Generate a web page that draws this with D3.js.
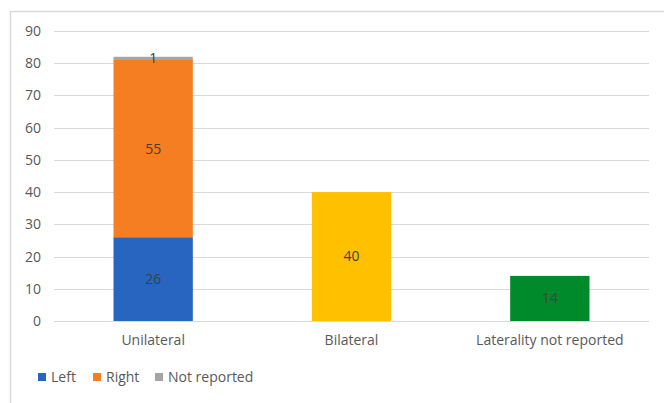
<!DOCTYPE html>
<html>
<head>
<meta charset="utf-8">
<script src="https://cdn.jsdelivr.net/npm/d3@7"></script>
<style>
  html, body { margin: 0; padding: 0; background: #fff; }
  svg text { font-family: "Open Sans", "Noto Sans", sans-serif; }
</style>
</head>
<body>
<svg id="chart" width="664" height="403"></svg>
<script>
// Case counts by laterality, stacked for the unilateral group
const categories = ["Unilateral", "Bilateral", "Laterality not reported"];
const leftValues = [26, 0, 0];
const rightValues = [55, 0, 0];
const notReportedValues = [1, 0, 0];
const bilateralValues = [0, 40, 0];
const unknownValues = [0, 0, 14];
const yTicks = [0, 10, 20, 30, 40, 50, 60, 70, 80, 90];
const legendLabels = ["Left", "Right", "Not reported"];

const seriesDefs = [
  { key: "left", values: leftValues, color: "#2865C1" },
  { key: "right", values: rightValues, color: "#F57E22" },
  { key: "nr", values: notReportedValues, color: "#A5A5A5" },
  { key: "bilateral", values: bilateralValues, color: "#FFC000" },
  { key: "unknown", values: unknownValues, color: "#008A2C" }
];

const svg = d3.select("#chart");
const margin = { left: 54, right: 15, top: 31, bottom: 82 };
const W = 664, H = 403;
const fontSize = "14px";

// Chart frame (top and left edges)
svg.append("path")
  .attr("d", `M10.5,403 L10.5,11.5 L664,11.5`)
  .attr("fill", "none")
  .attr("stroke", "#d9d9d9")
  .attr("stroke-width", 1.5);

const x = d3.scaleBand()
  .domain(categories)
  .range([margin.left, W - margin.right])
  .paddingInner(0.6)
  .paddingOuter(0.3);

const y = d3.scaleLinear()
  .domain([0, 90])
  .range([H - margin.bottom, margin.top]);

// Horizontal gridlines
svg.append("g")
  .selectAll("line")
  .data(yTicks)
  .join("line")
  .attr("x1", margin.left)
  .attr("x2", W - margin.right)
  .attr("y1", d => Math.round(y(d)) + 0.5)
  .attr("y2", d => Math.round(y(d)) + 0.5)
  .attr("stroke", "#d9d9d9")
  .attr("stroke-width", 1);

// Y axis labels
const yAxis = d3.axisLeft(y).tickValues(yTicks).tickSize(0).tickPadding(13);
const gy = svg.append("g")
  .attr("transform", `translate(${margin.left},0)`)
  .call(yAxis);
gy.select(".domain").remove();
gy.selectAll("text")
  .attr("fill", "#595959")
  .style("font-size", fontSize);

// Stack and draw segments
const rows = categories.map((c, i) => {
  const r = { category: c };
  seriesDefs.forEach(s => r[s.key] = s.values[i]);
  return r;
});
const stack = d3.stack().keys(seriesDefs.map(s => s.key));
const stacked = stack(rows);

stacked.forEach((layer, li) => {
  const def = seriesDefs[li];
  svg.append("g")
    .selectAll("rect")
    .data(layer.filter(d => d[1] - d[0] > 0))
    .join("rect")
    .attr("x", d => x(d.data.category))
    .attr("width", x.bandwidth())
    .attr("y", d => y(d[1]))
    .attr("height", d => y(d[0]) - y(d[1]))
    .attr("fill", def.color);
});

// Value labels centred in each segment
stacked.forEach(layer => {
  svg.append("g")
    .selectAll("text")
    .data(layer.filter(d => d[1] - d[0] > 0))
    .join("text")
    .attr("x", d => x(d.data.category) + x.bandwidth() / 2)
    .attr("y", d => y((d[0] + d[1]) / 2))
    .attr("dy", "0.35em")
    .attr("text-anchor", "middle")
    .attr("fill", "#404040")
    .style("font-size", fontSize)
    .text(d => d[1] - d[0]);
});

// Category labels
const xAxis = d3.axisBottom(x).tickSize(0).tickPadding(14);
const gx = svg.append("g")
  .attr("transform", `translate(0,${H - margin.bottom})`)
  .call(xAxis);
gx.select(".domain").remove();
gx.selectAll("text")
  .attr("fill", "#595959")
  .style("font-size", fontSize);

// Legend
const legendColors = [seriesDefs[0].color, seriesDefs[1].color, seriesDefs[2].color];
const legendX = [38, 93, 155];
const legend = svg.append("g");
legendLabels.forEach((lab, i) => {
  legend.append("rect")
    .attr("x", legendX[i])
    .attr("y", 373)
    .attr("width", 8)
    .attr("height", 8)
    .attr("fill", legendColors[i]);
  legend.append("text")
    .attr("x", legendX[i] + 13)
    .attr("y", 377)
    .attr("dy", "0.35em")
    .attr("fill", "#595959")
    .style("font-size", fontSize)
    .text(lab);
});
</script>
</body>
</html>
